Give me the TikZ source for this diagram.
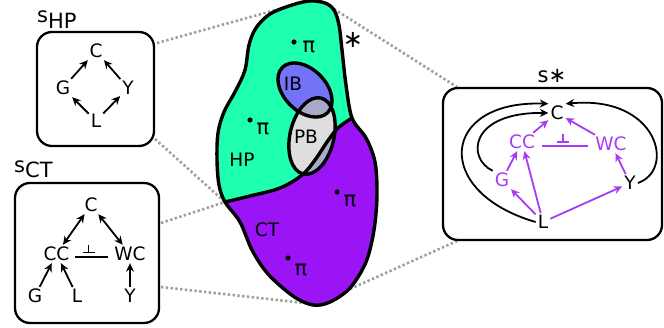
\documentclass[tikz,border=0pt]{standalone}
\usepackage{fontspec}
\setmainfont{DejaVu Sans}
\usetikzlibrary{arrows.meta}
\definecolor{hpgreen}{HTML}{1EFFAF}
\definecolor{ibblue}{HTML}{7373F8}
\definecolor{ctpurple}{HTML}{9B14F5}
\definecolor{pbgray}{HTML}{DEDEDE}
\definecolor{ovl}{HTML}{A9A9CA}
\definecolor{ptxt}{HTML}{A63CF5}
\begin{document}
\begin{tikzpicture}[x=1pt,y=-1pt,
  lbl/.style={inner sep=2pt, font=\fontsize{18.5}{20}\selectfont},
  biglbl/.style={inner sep=0pt, font=\fontsize{21}{23}\selectfont},
  panel/.style={draw, line width=2.3pt, rounded corners=15pt},
  arr/.style={line width=1.8pt, -{Stealth[length=8.5pt,width=8pt]}},
  darr/.style={line width=1.8pt, {Stealth[length=8.5pt,width=8pt]}-{Stealth[length=8.5pt,width=8pt]}},
  parr/.style={arr, ptxt},
  dots/.style={gray!75, line width=2.6pt, dash pattern=on 2.4pt off 2.4pt},
  edge/.style={line width=3.4pt, line join=round},
  indep/.style={line width=1.8pt},
]
\useasboundingbox (0,0) rectangle (664,328);

% ---------- named anchor points ----------
\coordinate (hpA) at (157,43);
\coordinate (hpB) at (155,139);
\coordinate (ctA) at (161,223);
\coordinate (ctB) at (161,287);
\coordinate (stA) at (457,87);
\coordinate (stB) at (457,241);
\coordinate (blobA) at (290,6);
\coordinate (blobL) at (225,202);
\coordinate (blobB) at (313,304);
\coordinate (blobC) at (334,9);
\coordinate (blobD) at (350,289);

% ---------- dotted connectors ----------
\draw[dots] (hpA) -- (blobA);
\draw[dots] (hpB) -- (blobL);
\draw[dots] (ctA) -- (blobL);
\draw[dots] (ctB) -- (blobB);
\draw[dots] (blobC) -- (stA);
\draw[dots] (blobD) -- (stB);

% ---------- central blob ----------
\path[save path=\blobpath] plot[smooth cycle, tension=0.55] coordinates {
 (292,5) (310,1) (325,3) (334,10) (339,25) (342,50) (346,85) (352,118)
 (366,138) (375,162) (377,195) (374,230) (366,262) (350,288) (330,302)
 (313,305) (293,296) (268,274) (252,250) (240,222) (225,202) (219,185)
 (217,160) (218,133) (224,112) (236,90) (245,70) (249,45) (256,28) (270,14)};
\begin{scope}
  \clip[use path=\blobpath];
  \fill[ctpurple] (150,-20) rectangle (450,350);
  \fill[hpgreen] plot[smooth, tension=0.6] coordinates {(225,202) (250,196) (280,188) (302,175) (315,160) (327,142) (338,128) (352,118)}
     -- (430,110) -- (430,-20) -- (180,-20) -- (180,205) -- cycle;
\end{scope}
\fill[ibblue, rotate around={-45:(305,90)}] (305,90) ellipse [x radius=32, y radius=21];
\fill[pbgray, rotate around={-13:(312,136)}] (312,136) ellipse [x radius=22, y radius=39];
\begin{scope}
  \clip[rotate around={-13:(312,136)}] (312,136) ellipse [x radius=22, y radius=39];
  \fill[ovl, rotate around={-45:(305,90)}] (305,90) ellipse [x radius=32, y radius=21];
  \fill[ovl] plot[smooth, tension=0.6] coordinates {(225,202) (250,196) (280,188) (302,175) (315,160) (327,142) (338,128) (352,118)}
     -- (430,110) -- (430,340) -- (180,340) -- (180,205) -- cycle;
\end{scope}
\draw[edge, use path=\blobpath];
\draw[edge] plot[smooth, tension=0.6] coordinates {(225,202) (250,196) (280,188) (302,175) (315,160) (327,142) (338,128) (352,118)};
\draw[edge, rotate around={-45:(305,90)}] (305,90) ellipse [x radius=32, y radius=21];
\draw[edge, rotate around={-13:(312,136)}] (312,136) ellipse [x radius=22, y radius=39];

\node[lbl] (ib) at (293,84) {IB};
\node[lbl] (pb) at (306,137) {PB};
\node[lbl] (hp) at (242,160) {HP};
\node[lbl] (ct) at (267,230) {CT};
\node[biglbl, font=\fontsize{24}{26}\selectfont] (star) at (353,40) {∗};
% policy points
\foreach \d/\p [count=\i] in {{(294,42)}/{(309,47)}, {(250,120)}/{(263,129)}, {(337,192)}/{(350,201)}, {(288,258)}/{(301,270)}}{
  \fill \d circle (2.6);
  \node[biglbl] (pi\i) at \p {π};
}

% ---------- s_HP panel ----------
\node[panel, minimum width=117pt, minimum height=114pt] (hpbox) at (95.5,89) {};
\node[biglbl, anchor=base west] (hplab) at (37,23) {s\raisebox{-6pt}{HP}};
\node[lbl] (hC) at (96,51) {C};
\node[lbl] (hG) at (63,88) {G};
\node[lbl] (hY) at (128,88) {Y};
\node[lbl] (hL) at (96,121) {L};
\draw[arr] (hG) -- (hC);
\draw[arr] (hY) -- (hC);
\draw[arr] (hL) -- (hG);
\draw[arr] (hL) -- (hY);

% ---------- s_CT panel ----------
\node[panel, minimum width=144pt, minimum height=140pt] (ctbox) at (87,253) {};
\node[biglbl, anchor=base west] (ctlab) at (14,173) {s\raisebox{-5pt}{CT}};
\node[lbl] (cC) at (91,205) {C};
\node[lbl] (cCC) at (56.5,254) {CC};
\node[lbl] (cWC) at (130,254) {WC};
\node[lbl] (cG) at (35,296) {G};
\node[lbl] (cL) at (77,296) {L};
\node[lbl] (cY) at (130,296) {Y};
\draw[darr] (cC) -- (cCC);
\draw[darr] (cC) -- (cWC);
\draw[arr] (cG) -- (cCC);
\draw[arr] (cL) -- (cCC);
\draw[arr] (cY) -- (cWC);
\coordinate (ci1) at (75,257);
\coordinate (ci2) at (108,257);
\draw[indep] (ci1) -- (ci2);
\draw[indep] (82.5,252.5) -- (94.5,252.5) (88.5,252.5) -- (88.5,245);

% ---------- s* panel ----------
\node[panel, minimum width=219pt, minimum height=152pt] (stbox) at (552.5,164) {};
\node[biglbl, anchor=base] (stlab) at (552,83) {s∗};
\node[lbl] (sC) at (557,113) {C};
\node[lbl, ptxt] (sCC) at (522,142) {CC};
\node[lbl, ptxt] (sWC) at (611,144) {WC};
\node[lbl, ptxt] (sG) at (502,180) {G};
\node[lbl] (sY) at (630,183) {Y};
\node[lbl] (sL) at (543,222) {L};
\draw[parr] (sCC) -- (sC);
\draw[parr] (sWC) -- (sC);
\draw[parr] (sG) -- (sCC);
\draw[parr] (sL) -- (sG);
\draw[parr] (sL) -- (sCC);
\draw[parr] (sL) -- (sY);
\draw[parr] (sY) -- (sWC);
\draw[indep, ptxt] (542,146) -- (588,146);
\draw[indep, ptxt] (557,142) -- (569,142) (563,142) -- (563,134.5);
\draw[arr] (sL.west) .. controls (432,192) and (440,100) .. (sC.north west);
\draw[arr] (sG.north west) .. controls (466,158) and (470,112) .. (sC.west);
\draw[arr] (sY.east) .. controls (676,170) and (658,95) .. (sC.north east);
\end{tikzpicture}
\end{document}
